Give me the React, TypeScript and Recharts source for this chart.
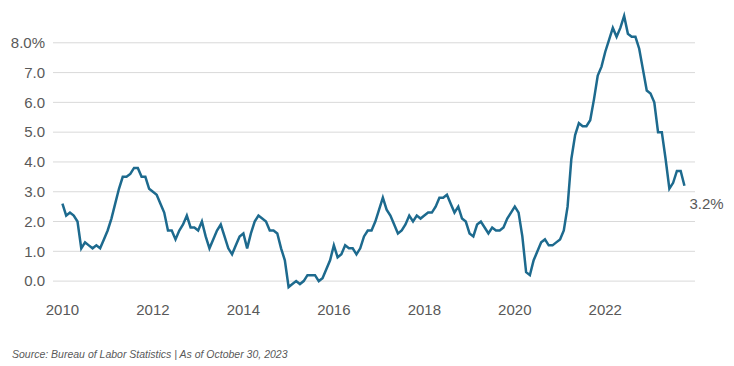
import { LineChart, Line, XAxis, YAxis, CartesianGrid } from 'recharts';

// monthly CPI year-over-year change, Jan 2010 .. Oct 2023
const y2010 = [2.6, 2.2, 2.3, 2.2, 2.0, 1.1, 1.3, 1.2, 1.1, 1.2, 1.1, 1.4];
const y2011 = [1.7, 2.1, 2.6, 3.1, 3.5, 3.5, 3.6, 3.8, 3.8, 3.5, 3.5, 3.1];
const y2012 = [3.0, 2.9, 2.6, 2.3, 1.7, 1.7, 1.4, 1.7, 1.9, 2.2, 1.8, 1.8];
const y2013 = [1.7, 2.0, 1.5, 1.1, 1.4, 1.7, 1.9, 1.5, 1.1, 0.9, 1.2, 1.5];
const y2014 = [1.6, 1.1, 1.6, 2.0, 2.2, 2.1, 2.0, 1.7, 1.7, 1.6, 1.1, 0.7];
const y2015 = [-0.2, -0.1, 0.0, -0.1, 0.0, 0.2, 0.2, 0.2, 0.0, 0.1, 0.4, 0.7];
const y2016 = [1.2, 0.8, 0.9, 1.2, 1.1, 1.1, 0.9, 1.1, 1.5, 1.7, 1.7, 2.0];
const y2017 = [2.4, 2.8, 2.4, 2.2, 1.9, 1.6, 1.7, 1.9, 2.2, 2.0, 2.2, 2.1];
const y2018 = [2.2, 2.3, 2.3, 2.5, 2.8, 2.8, 2.9, 2.6, 2.3, 2.5, 2.1, 2.0];
const y2019 = [1.6, 1.5, 1.9, 2.0, 1.8, 1.6, 1.8, 1.7, 1.7, 1.8, 2.1, 2.3];
const y2020 = [2.5, 2.3, 1.5, 0.3, 0.2, 0.7, 1.0, 1.3, 1.4, 1.2, 1.2, 1.3];
const y2021 = [1.4, 1.7, 2.5, 4.1, 4.9, 5.3, 5.2, 5.2, 5.4, 6.1, 6.9, 7.2];
const y2022 = [7.7, 8.1, 8.5, 8.2, 8.5, 8.9, 8.3, 8.2, 8.2, 7.8, 7.1, 6.4];
const y2023 = [6.3, 6.0, 5.0, 5.0, 4.1, 3.1, 3.3, 3.7, 3.7, 3.2];

const startYear = 2010;
const yearTicks = [2010, 2012, 2014, 2016, 2018, 2020, 2022];
const yTicks = [0, 1, 2, 3, 4, 5, 6, 7, 8];

const values = [
  ...y2010, ...y2011, ...y2012, ...y2013, ...y2014, ...y2015, ...y2016,
  ...y2017, ...y2018, ...y2019, ...y2020, ...y2021, ...y2022, ...y2023,
];
const data = values.map((v, i) => ({ m: i, v }));
const lastIndex = data.length - 1;

const textColor = '#595959';
const font = '"Liberation Sans", Arial, sans-serif';

const EndLabel = (props: any) => {
  const { x, y, index, value } = props;
  if (index !== lastIndex) return null;
  return (
    <text x={x + 5} y={y + 23} fill={textColor} fontSize={15} fontFamily={font}>
      {`${Number(value).toFixed(1)}%`}
    </text>
  );
};

export default function App() {
  return (
    <div style={{ position: 'absolute', left: 0, top: 0, width: 734, height: 366, background: '#fff' }}>
      <LineChart
        width={734}
        height={330}
        data={data}
        margin={{ top: 13, right: 39, left: 0, bottom: 4 }}
        style={{ fontFamily: font }}
      >
        <CartesianGrid vertical={false} stroke="#d9d9d9" strokeWidth={1} syncWithTicks />
        <XAxis
          dataKey="m"
          type="number"
          domain={[-2.5, 167.8]}
          ticks={yearTicks.map(y => (y - startYear) * 12)}
          tickFormatter={m => String(startYear + m / 12)}
          axisLine={false}
          tickLine={false}
          height={30}
          tick={{ fill: textColor, fontSize: 15 }}
        />
        <YAxis
          type="number"
          domain={[-0.5, 9]}
          ticks={yTicks}
          tickFormatter={v => (v === 8 ? '8.0%' : v.toFixed(1))}
          axisLine={false}
          tickLine={false}
          width={53}
          tick={{ fill: textColor, fontSize: 15 }}
        />
        <Line
          dataKey="v"
          stroke="#1d6a8e"
          strokeWidth={2.5}
          dot={false}
          type="linear"
          isAnimationActive={false}
          label={<EndLabel />}
        />
      </LineChart>
      <div
        style={{
          position: 'absolute',
          left: 12,
          top: 348,
          fontFamily: font,
          fontStyle: 'italic',
          fontSize: 10.5,
          color: textColor,
          whiteSpace: 'nowrap',
        }}
      >
        Source: Bureau of Labor Statistics | As of October 30, 2023
      </div>
    </div>
  );
}
